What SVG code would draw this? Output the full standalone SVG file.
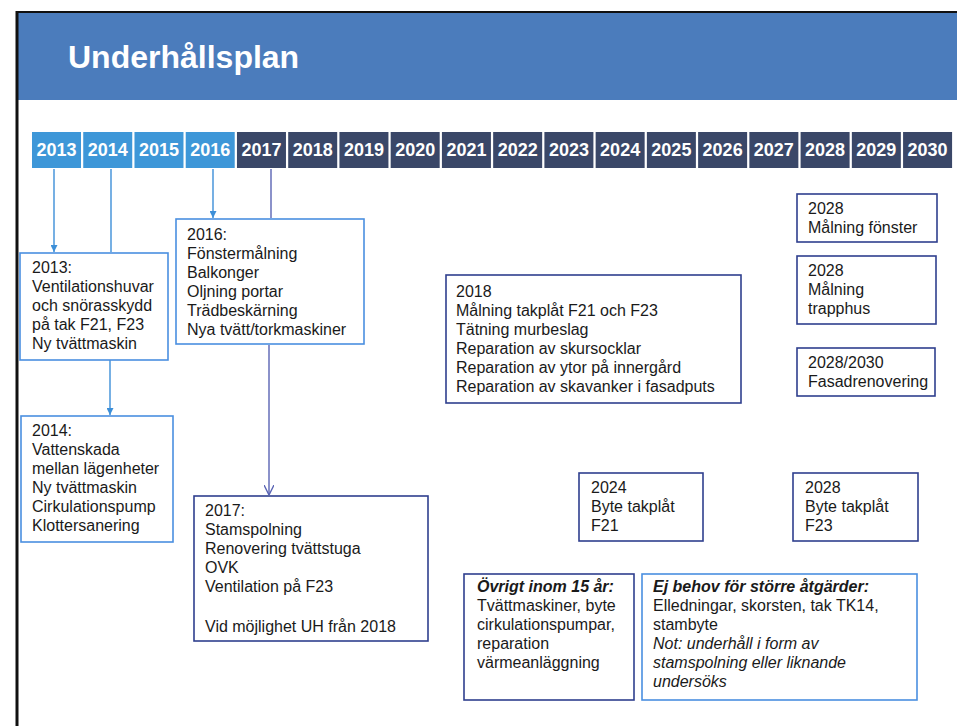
<svg xmlns="http://www.w3.org/2000/svg" width="957" height="726" viewBox="0 0 957 726">
<defs>
<style>
.t{font-family:"Liberation Sans",Arial,sans-serif;font-size:16px;fill:#1a1a1a}
.yr{font-family:"Liberation Sans",Arial,sans-serif;font-size:18px;font-weight:bold;fill:#ffffff;text-anchor:middle}
.yl{fill:#3e97d8}
.yd{fill:#3a4768}
.bl{fill:#ffffff;stroke:#4a8fe0;stroke-width:1.6}
.bd{fill:#ffffff;stroke:#2f3f8e;stroke-width:1.6}
.cl{stroke:#3d8fd8;stroke-width:1.4;fill:none}
.cd{stroke:#5a64b4;stroke-width:1.4;fill:none}
.bi{font-weight:bold;font-style:italic}
.it{font-style:italic}
</style>
<marker id="ah" viewBox="0 0 10 10" refX="10" refY="5" markerWidth="7" markerHeight="7" orient="auto" markerUnits="userSpaceOnUse">
<path d="M0,0 L10,5 L0,10 z" fill="#3d8fd8"/>
</marker>
<marker id="av" viewBox="0 0 10 10" refX="10" refY="5" markerWidth="10" markerHeight="10" orient="auto" markerUnits="userSpaceOnUse">
<path d="M0,0 L10,5 L0,10" fill="none" stroke="#5a64b4" stroke-width="1.4"/>
</marker>
</defs>
<rect x="0" y="0" width="957" height="726" fill="#ffffff"/>
<g id="header">
<rect x="17" y="12" width="940" height="88" fill="#4b7cbc"/>
<line x1="17" y1="12" x2="957" y2="12" stroke="#111" stroke-width="2"/>
<line x1="17" y1="11" x2="17" y2="726" stroke="#111" stroke-width="3"/>
<text x="68" y="68" font-family="'Liberation Sans',Arial,sans-serif" font-size="32" font-weight="bold" fill="#ffffff">Underhållsplan</text>
</g>
<g id="timeline">
<rect class="yl" x="32" y="132" width="49" height="36"/><text class="yr" x="56.5" y="156">2013</text>
<rect class="yl" x="83.24" y="132" width="49" height="36"/><text class="yr" x="107.74" y="156">2014</text>
<rect class="yl" x="134.48" y="132" width="49" height="36"/><text class="yr" x="158.98" y="156">2015</text>
<rect class="yl" x="185.72" y="132" width="49" height="36"/><text class="yr" x="210.22" y="156">2016</text>
<rect class="yd" x="236.96" y="132" width="49" height="36"/><text class="yr" x="261.46" y="156">2017</text>
<rect class="yd" x="288.2" y="132" width="49" height="36"/><text class="yr" x="312.7" y="156">2018</text>
<rect class="yd" x="339.44" y="132" width="49" height="36"/><text class="yr" x="363.94" y="156">2019</text>
<rect class="yd" x="390.68" y="132" width="49" height="36"/><text class="yr" x="415.18" y="156">2020</text>
<rect class="yd" x="441.92" y="132" width="49" height="36"/><text class="yr" x="466.42" y="156">2021</text>
<rect class="yd" x="493.16" y="132" width="49" height="36"/><text class="yr" x="517.66" y="156">2022</text>
<rect class="yd" x="544.4" y="132" width="49" height="36"/><text class="yr" x="568.9" y="156">2023</text>
<rect class="yd" x="595.64" y="132" width="49" height="36"/><text class="yr" x="620.14" y="156">2024</text>
<rect class="yd" x="646.88" y="132" width="49" height="36"/><text class="yr" x="671.38" y="156">2025</text>
<rect class="yd" x="698.12" y="132" width="49" height="36"/><text class="yr" x="722.62" y="156">2026</text>
<rect class="yd" x="749.36" y="132" width="49" height="36"/><text class="yr" x="773.86" y="156">2027</text>
<rect class="yd" x="800.6" y="132" width="49" height="36"/><text class="yr" x="825.1" y="156">2028</text>
<rect class="yd" x="851.84" y="132" width="49" height="36"/><text class="yr" x="876.34" y="156">2029</text>
<rect class="yd" x="903.08" y="132" width="49" height="36"/><text class="yr" x="927.58" y="156">2030</text>
</g>
<g id="connectors">
<line class="cl" x1="54" y1="169" x2="54" y2="252" marker-end="url(#ah)"/>
<line class="cl" x1="111" y1="169" x2="111" y2="252"/>
<line class="cl" x1="110" y1="360" x2="110" y2="415" marker-end="url(#ah)"/>
<line class="cl" x1="213" y1="169" x2="213" y2="218" marker-end="url(#ah)"/>
<line class="cd" x1="271" y1="169" x2="271" y2="218"/>
<line class="cd" x1="269" y1="345" x2="269" y2="495" marker-end="url(#av)"/>
</g>
<g id="n2013">
<rect class="bl" x="20" y="253" width="148" height="107"/>
<text class="t" x="32" y="273">2013:</text>
<text class="t" x="32" y="292">Ventilationshuvar</text>
<text class="t" x="32" y="311">och snörasskydd</text>
<text class="t" x="32" y="330">på tak F21, F23</text>
<text class="t" x="32" y="349">Ny tvättmaskin</text>
</g>
<g id="n2016">
<rect class="bl" x="176" y="219" width="188" height="125"/>
<text class="t" x="187" y="240">2016:</text>
<text class="t" x="187" y="259">Fönstermålning</text>
<text class="t" x="187" y="278">Balkonger</text>
<text class="t" x="187" y="297">Oljning portar</text>
<text class="t" x="187" y="316">Trädbeskärning</text>
<text class="t" x="187" y="335">Nya tvätt/torkmaskiner</text>
</g>
<g id="n2014">
<rect class="bl" x="21" y="416" width="152" height="126"/>
<text class="t" x="32" y="436">2014:</text>
<text class="t" x="32" y="455">Vattenskada</text>
<text class="t" x="32" y="474">mellan lägenheter</text>
<text class="t" x="32" y="493">Ny tvättmaskin</text>
<text class="t" x="32" y="512">Cirkulationspump</text>
<text class="t" x="32" y="531">Klottersanering</text>
</g>
<g id="n2017">
<rect class="bd" x="194" y="496" width="234" height="145"/>
<text class="t" x="205" y="516">2017:</text>
<text class="t" x="205" y="535">Stamspolning</text>
<text class="t" x="205" y="554">Renovering tvättstuga</text>
<text class="t" x="205" y="573">OVK</text>
<text class="t" x="205" y="592">Ventilation på F23</text>
<text class="t" x="205" y="632">Vid möjlighet UH från 2018</text>
</g>
<g id="n2018">
<rect class="bd" x="446" y="275" width="295" height="128"/>
<text class="t" x="456" y="297">2018</text>
<text class="t" x="456" y="316">Målning takplåt F21 och F23</text>
<text class="t" x="456" y="335">Tätning murbeslag</text>
<text class="t" x="456" y="354">Reparation av skursocklar</text>
<text class="t" x="456" y="373">Reparation av ytor på innergård</text>
<text class="t" x="456" y="392">Reparation av skavanker i fasadputs</text>
</g>
<g id="n2028a">
<rect class="bd" x="797" y="194" width="140" height="48"/>
<text class="t" x="808" y="214">2028</text>
<text class="t" x="808" y="233">Målning fönster</text>
</g>
<g id="n2028b">
<rect class="bd" x="797" y="256" width="139" height="68"/>
<text class="t" x="808" y="276">2028</text>
<text class="t" x="808" y="295">Målning</text>
<text class="t" x="808" y="314">trapphus</text>
</g>
<g id="n2028c">
<rect class="bd" x="797" y="348" width="138" height="48"/>
<text class="t" x="808" y="368">2028/2030</text>
<text class="t" x="808" y="387">Fasadrenovering</text>
</g>
<g id="n2024">
<rect class="bd" x="579" y="473" width="124" height="68"/>
<text class="t" x="591" y="493">2024</text>
<text class="t" x="591" y="512">Byte takplåt</text>
<text class="t" x="591" y="531">F21</text>
</g>
<g id="n2028d">
<rect class="bd" x="793" y="473" width="125" height="68"/>
<text class="t" x="805" y="493">2028</text>
<text class="t" x="805" y="512">Byte takplåt</text>
<text class="t" x="805" y="531">F23</text>
</g>
<g id="novrigt">
<rect class="bd" x="464" y="574" width="170" height="126"/>
<text class="t bi" x="477" y="592">Övrigt inom 15 år:</text>
<text class="t" x="477" y="611">Tvättmaskiner, byte</text>
<text class="t" x="477" y="630">cirkulationspumpar,</text>
<text class="t" x="477" y="649">reparation</text>
<text class="t" x="477" y="668">värmeanläggning</text>
</g>
<g id="nejbehov">
<rect class="bl" x="642" y="574" width="275" height="126"/>
<text class="t bi" x="653" y="592">Ej behov för större åtgärder:</text>
<text class="t" x="653" y="611">Elledningar, skorsten, tak TK14,</text>
<text class="t" x="653" y="630">stambyte</text>
<text class="t it" x="653" y="649">Not: underhåll i form av</text>
<text class="t it" x="653" y="668">stamspolning eller liknande</text>
<text class="t it" x="653" y="687">undersöks</text>
</g>
</svg>
